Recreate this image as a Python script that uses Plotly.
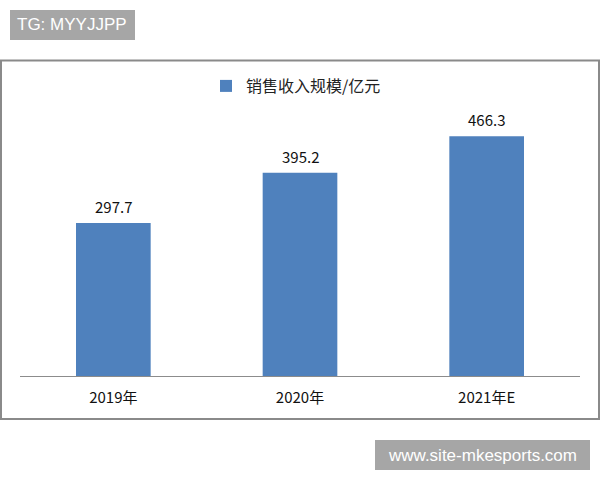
import plotly.graph_objects as go

categories = ["2019年", "2020年", "2021年E"]
values = [297.7, 395.2, 466.3]
value_labels = ["297.7", "395.2", "466.3"]
series_name = "销售收入规模/亿元"

W, H = 600, 480
L, R, T, B = 20, 20, 119, 104
PW, PH = W - L - R, H - T - B

def px(x):
    return (x - L) / PW

def py(y):
    return (H - B - y) / PH

fig = go.Figure()
fig.add_trace(go.Bar(
    x=categories, y=values, name=series_name,
    marker=dict(color="#4f81bd", line=dict(width=0)),
    width=0.4,
))

for c, v, t in zip(categories, values, value_labels):
    fig.add_annotation(x=c, y=v, text=t, showarrow=False, yanchor="bottom",
                       yshift=4, font=dict(size=15, color="#111",
                                           family="Noto Sans CJK SC"))

shapes = [
    dict(type="rect", xref="paper", yref="paper",
         x0=px(1), x1=px(599), y0=py(419), y1=py(60.5),
         line=dict(color="#8a8a8a", width=2), fillcolor="rgba(0,0,0,0)", layer="below"),
    dict(type="rect", xref="paper", yref="paper",
         x0=px(10), x1=px(135), y0=py(40), y1=py(10),
         line=dict(width=0), fillcolor="#a6a6a6", layer="below"),
    dict(type="rect", xref="paper", yref="paper",
         x0=px(375), x1=px(590), y0=py(470), y1=py(440),
         line=dict(width=0), fillcolor="#a6a6a6", layer="below"),
]

fig.add_annotation(xref="paper", yref="paper", x=px(72), y=py(25),
                   xanchor="center", yanchor="middle",
                   text="TG: MYYJJPP", showarrow=False,
                   font=dict(size=17, color="white", family="Liberation Sans"))
fig.add_annotation(xref="paper", yref="paper", x=px(482.5), y=py(455),
                   xanchor="center", yanchor="middle",
                   text="www.site-mkesports.com", showarrow=False,
                   font=dict(size=17, color="white", family="Liberation Sans"))

fig.update_layout(
    width=W, height=H,
    margin=dict(l=L, r=R, t=T, b=B),
    paper_bgcolor="white", plot_bgcolor="white",
    shapes=shapes,
    showlegend=True,
    legend=dict(orientation="h", x=px(296), xanchor="center", y=py(86), yanchor="middle",
                font=dict(size=16, color="#222", family="Noto Sans CJK SC"),
                bgcolor="rgba(0,0,0,0)"),
    xaxis=dict(showline=True, linecolor="#8c8c8c", linewidth=1, ticks="",
               tickfont=dict(size=15, color="#111", family="Noto Sans CJK SC"),
               ticklabelstandoff=8, showgrid=False),
    yaxis=dict(range=[0, 500], visible=False, showgrid=False),
    bargap=0.6,
)

fig.write_html("out.html", config={"displayModeBar": False},
               post_script="document.body.style.margin='0';document.body.style.padding='0';")
